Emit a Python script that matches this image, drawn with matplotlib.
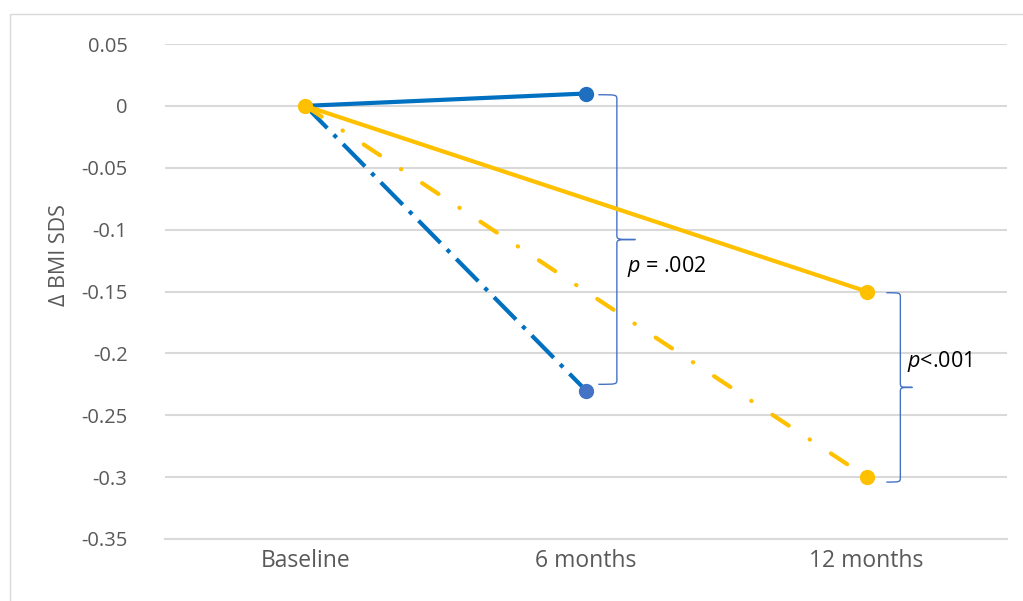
"""Change in BMI SDS from baseline, two groups with brace annotations."""

import matplotlib

matplotlib.use("Agg")
import matplotlib.pyplot as plt
from matplotlib.path import Path
from matplotlib.patches import PathPatch, Rectangle

plt.rcParams["font.family"] = ["Open Sans", "DejaVu Sans"]
plt.rcParams["axes.unicode_minus"] = False
plt.rcParams["mathtext.fontset"] = "custom"
plt.rcParams["mathtext.it"] = "Open Sans:italic"

# data
categories = ["Baseline", "6 months", "12 months"]
blue_solid = [0, 0.01]          # baseline -> 6 months
blue_dashdot = [0, -0.23]       # baseline -> 6 months
yellow_solid = [0, -0.15]       # baseline -> 12 months
yellow_dashdot = [0, -0.30]     # baseline -> 12 months
blue_x = [0, 1]
yellow_x = [0, 2]
y_ticks = [0.05, 0, -0.05, -0.1, -0.15, -0.2, -0.25, -0.3, -0.35]
y_labels = ["0.05", "0", "-0.05", "-0.1", "-0.15", "-0.2", "-0.25", "-0.3", "-0.35"]

BLUE = "#0070C0"
BLUE_MK = "#4472C4"
YELLOW = "#FFC000"
GREY = "#595959"


def brace(ax, x_arm, x_line, x_tip, y_top, y_bot, ry):
    """Right-pointing curly brace drawn as a path in data coordinates."""
    y_mid = (y_top + y_bot) / 2
    verts = [
        (x_arm, y_top),
        (x_line, y_top), (x_line, y_top), (x_line, y_top - ry),
        (x_line, y_mid + ry),
        (x_line, y_mid), (x_line, y_mid), (x_tip, y_mid),
        (x_line, y_mid), (x_line, y_mid), (x_line, y_mid - ry),
        (x_line, y_bot + ry),
        (x_line, y_bot), (x_line, y_bot), (x_arm, y_bot),
    ]
    codes = [
        Path.MOVETO,
        Path.CURVE4, Path.CURVE4, Path.CURVE4,
        Path.LINETO,
        Path.CURVE4, Path.CURVE4, Path.CURVE4,
        Path.CURVE4, Path.CURVE4, Path.CURVE4,
        Path.LINETO,
        Path.CURVE4, Path.CURVE4, Path.CURVE4,
    ]
    ax.add_patch(PathPatch(Path(verts, codes), fill=False, edgecolor=BLUE_MK,
                           lw=1.0, zorder=2))


fig = plt.figure(figsize=(10.23, 6.01), dpi=100)
ax = fig.add_axes([165 / 1023, 1 - 539 / 601, (1007 - 165) / 1023, (539 - 44) / 601])

# outer chart border (only top and left visible)
fig.patches.append(Rectangle((10 / 1023, -0.1), 1.2, 1 - 14 / 601 + 0.1,
                             transform=fig.transFigure, fill=False,
                             edgecolor="#D9D9D9", lw=1.0))

ax.plot(blue_x, blue_dashdot, color=BLUE, lw=3, linestyle=(0, (7.5, 2.2, 1, 2.2)), zorder=3)
ax.plot(yellow_x, yellow_dashdot, color=YELLOW, lw=3, linestyle=(0, (4.7, 6, 0.1, 6)),
        dash_capstyle="round", zorder=3)
ax.plot(blue_x, blue_solid, color=BLUE, lw=3, zorder=4)
ax.plot(yellow_x, yellow_solid, color=YELLOW, lw=3, zorder=4)

ax.plot(blue_x[1], blue_dashdot[1], "o", color=BLUE_MK, ms=10, zorder=5)
ax.plot(blue_x[1], blue_solid[1], "o", color="#1F6FC0", ms=10, zorder=5)
ax.plot(yellow_x[1], yellow_dashdot[1], "o", color=YELLOW, ms=10, zorder=5)
ax.plot(yellow_x[1], yellow_solid[1], "o", color=YELLOW, ms=10, zorder=5)
ax.plot(0, 0, "o", color=YELLOW, ms=10, zorder=6)

brace(ax, 1.044, 1.11, 1.176, 0.009, -0.225, 0.004)
brace(ax, 2.07, 2.12, 2.163, -0.151, -0.304, 0.004)
ax.text(1.145, -0.130, "$\\it{p}$ = .002", fontsize=15.5, color="black", va="center")
ax.text(2.145, -0.2065, "$\\it{p}$<.001", fontsize=15.5, color="black", va="center")

ax.set_xlim(-0.5, 2.5)
ax.set_ylim(-0.35, 0.05)
ax.set_xticks(range(len(categories)))
ax.set_xticklabels(categories)
ax.set_yticks(y_ticks)
ax.set_yticklabels(y_labels)
ax.tick_params(length=0, labelcolor=GREY)
ax.tick_params(axis="x", labelsize=16.5, pad=7)
ax.tick_params(axis="y", labelsize=14.5, pad=27)
ax.grid(axis="y", color="#D9D9D9", lw=1.5)
ax.set_axisbelow(True)
for side in ["top", "right", "left"]:
    ax.spines[side].set_visible(False)
ax.spines["bottom"].set_color("#D9D9D9")
ax.spines["bottom"].set_linewidth(1.5)
ax.set_ylabel("Δ BMI SDS", fontsize=15.5, color=GREY)
ax.yaxis.set_label_coords(-0.113, 0.574)

fig.savefig("out.png", dpi=100)
